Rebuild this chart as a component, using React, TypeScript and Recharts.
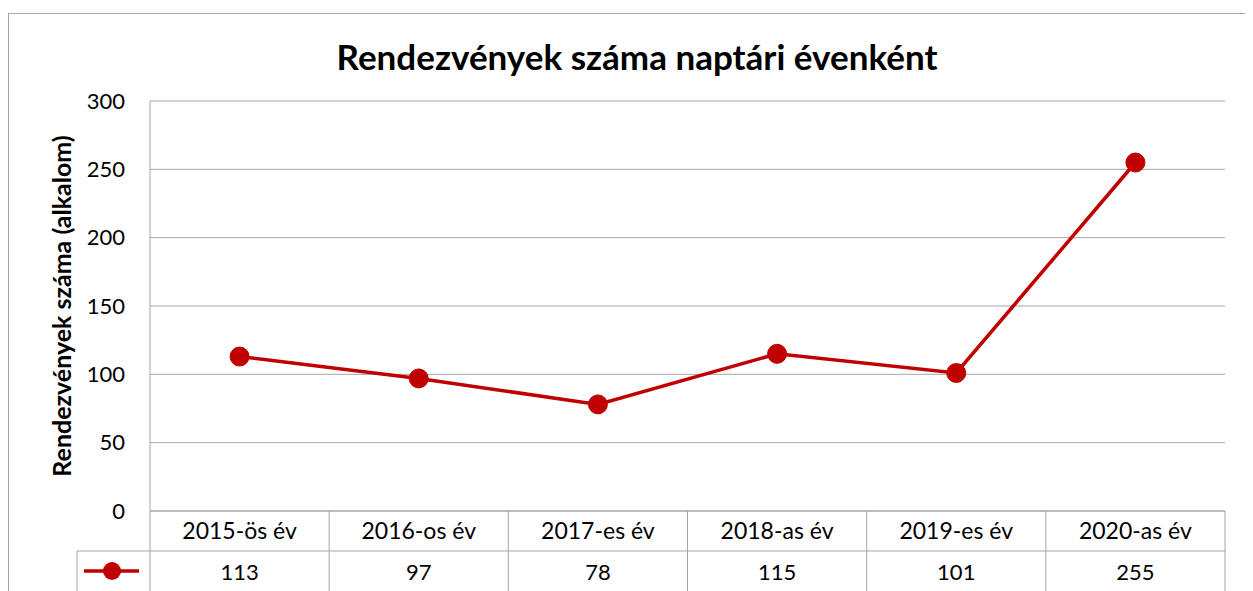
import React from "react";
import { LineChart, Line, CartesianGrid, XAxis, YAxis } from "recharts";

const categories = ["2015-ös év", "2016-os év", "2017-es év", "2018-as év", "2019-es év", "2020-as év"];
const counts = [113, 97, 78, 115, 101, 255];
const yTicks = [0, 50, 100, 150, 200, 250, 300];

const TITLE = "Rendezvények száma naptári évenként";
const Y_LABEL = "Rendezvények száma (alkalom)";

const RED = "#C00000";
const GRID = "#A6A6A6";
const FONT = "Lato, 'Open Sans', sans-serif";

const W = 1245;
const H = 583;
const M = { top: 93, right: 28, left: 0, bottom: 0 };
const Y_AXIS_W = 142;
const PLOT_W = W - M.left - M.right - Y_AXIS_W;
const ROW_H = 40;

const data = categories.map((name, i) => ({ name, value: counts[i] }));

function TableTick(props: any) {
  const { x, y, payload, index } = props;
  const half = PLOT_W / categories.length / 2;
  const left = x - half;
  const right = x + half;
  const bottom = H + 10;
  return (
    <g>
      <line x1={left} y1={y} x2={left} y2={bottom} stroke={GRID} strokeWidth={1} />
      {index === categories.length - 1 && (
        <line x1={right} y1={y} x2={right} y2={bottom} stroke={GRID} strokeWidth={1} />
      )}
      <line x1={left} y1={y + ROW_H} x2={right} y2={y + ROW_H} stroke={GRID} strokeWidth={1} />
      <text x={x} y={y + 28} textAnchor="middle" fontSize={23} fontFamily={FONT} fill="#000">
        {payload.value}
      </text>
      <text x={x} y={y + ROW_H + 29} textAnchor="middle" fontSize={22} fontFamily={FONT} fill="#000">
        {counts[index]}
      </text>
      {index === 0 && (
        <g>
          <line x1={left - 73} y1={y + ROW_H} x2={left} y2={y + ROW_H} stroke={GRID} strokeWidth={1} />
          <line x1={left - 73} y1={y + ROW_H} x2={left - 73} y2={bottom} stroke={GRID} strokeWidth={1} />
          <line x1={left - 66} y1={y + ROW_H + 20} x2={left - 11} y2={y + ROW_H + 20} stroke={RED} strokeWidth={3.5} />
          <circle cx={left - 38} cy={y + ROW_H + 20} r={9} fill={RED} />
        </g>
      )}
    </g>
  );
}

export default function App() {
  return (
    <div style={{ position: "relative", width: W, height: H, fontFamily: FONT }}>
      <div
        style={{
          position: "absolute",
          left: 0,
          top: 5,
          width: W + 20,
          height: H + 20,
          border: "1px solid #A6A6A6",
          boxSizing: "border-box",
        }}
      />
      <div
        style={{
          position: "absolute",
          left: 0,
          top: 27,
          width: 1258,
          textAlign: "center",
          fontSize: 35,
          fontWeight: 700,
          color: "#000",
        }}
      >
        {TITLE}
      </div>
      <div style={{ position: "absolute", left: 0, top: 0 }}>
        <LineChart width={W} height={H} data={data} margin={M}>
          <CartesianGrid vertical={false} stroke={GRID} strokeWidth={1} />
          <XAxis
            dataKey="name"
            scale="band"
            height={H - M.top - 410}
            axisLine={{ stroke: GRID }}
            tickLine={false}
            tickSize={0}
            tickMargin={0}
            interval={0}
            tick={<TableTick />}
          />
          <YAxis
            domain={[0, 300]}
            ticks={yTicks}
            width={Y_AXIS_W}
            axisLine={{ stroke: GRID }}
            tickLine={false}
            tickSize={0}
            tickMargin={25}
            tick={{ fill: "#000", fontSize: 22, fontFamily: FONT }}
            label={{
              value: Y_LABEL,
              angle: -90,
              position: "insideLeft",
              offset: 54,
              style: { fontSize: 25, fontWeight: 700, fill: "#000", fontFamily: FONT, textAnchor: "middle" },
            }}
          />
          <Line
            type="linear"
            dataKey="value"
            stroke={RED}
            strokeWidth={3.5}
            dot={{ r: 9.5, fill: RED, stroke: RED, strokeWidth: 1 }}
            activeDot={false}
            isAnimationActive={false}
          />
        </LineChart>
      </div>
    </div>
  );
}
